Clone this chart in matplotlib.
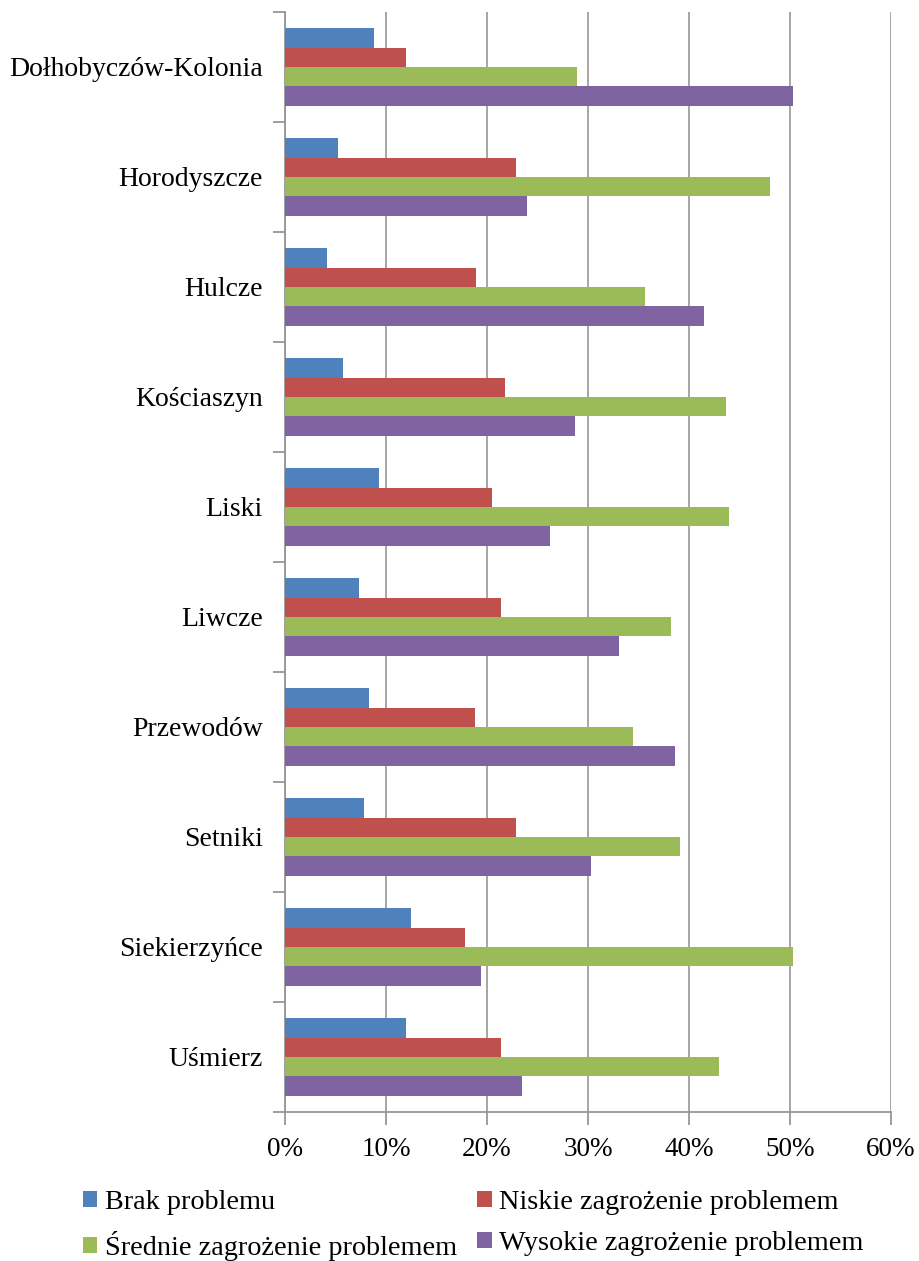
import matplotlib
matplotlib.use("Agg")
import matplotlib.pyplot as plt
import numpy as np

categories = ["Dołhobyczów-Kolonia", "Horodyszcze", "Hulcze", "Kościaszyn", "Liski",
              "Liwcze", "Przewodów", "Setniki", "Siekierzyńce", "Uśmierz"]
series_names = ["Brak problemu", "Niskie zagrożenie problemem",
                "Średnie zagrożenie problemem", "Wysokie zagrożenie problemem"]
brak =    [8.8, 5.2, 4.2, 5.7, 9.3, 7.3, 8.3, 7.8, 12.5, 12.0]
niskie =  [12.0, 22.9, 18.9, 21.8, 20.5, 21.4, 18.8, 22.9, 17.8, 21.4]
srednie = [28.9, 48.0, 35.6, 43.7, 44.0, 38.2, 34.5, 39.1, 50.3, 43.0]
wysokie = [50.3, 24.0, 41.5, 28.7, 26.2, 33.1, 38.6, 30.3, 19.4, 23.5]
xticks = [0, 10, 20, 30, 40, 50, 60]
xticklabels = ["0%", "10%", "20%", "30%", "40%", "50%", "60%"]

colors = ["#4F81BD", "#C0504D", "#9BBB59", "#8064A2"]
values = [brak, niskie, srednie, wysokie]

plt.rcParams['font.family'] = ['Liberation Serif', 'DejaVu Serif']

fig = plt.figure(figsize=(9.2, 12.61), dpi=100)
ax = fig.add_axes([285/920, 1 - 1112/1261, (891-285)/920, 1100/1261])

n = len(categories)
y = np.arange(n)
bh = 0.177
bars = []
for i, (vals, c, name) in enumerate(zip(values, colors, series_names)):
    offs = (i - 1.5) * bh
    b = ax.barh(y + offs, vals, height=bh, color=c, label=name, zorder=3)
    bars.append(b)

ax.set_xlim(0, 60)
ax.set_ylim(n - 0.5, -0.5)
ax.set_xticks(xticks)
ax.set_xticklabels(xticklabels, fontsize=19.5)
ax.set_yticks(y)
ax.set_yticklabels(categories, fontsize=20)
ax.set_yticks(np.arange(n + 1) - 0.5, minor=True)
ax.tick_params(axis='y', which='major', length=0, pad=16)
ax.tick_params(axis='y', which='minor', length=9, color='#969696', width=1.3)
ax.tick_params(axis='x', which='major', length=9, color='#969696', width=1.3, pad=9)
ax.grid(axis='x', color='#A6A6A6', linewidth=1.4, zorder=0)
for s in ['top', 'right']:
    ax.spines[s].set_visible(False)
for s in ['left', 'bottom']:
    ax.spines[s].set_color('#969696')
    ax.spines[s].set_linewidth(1.3)

order = [0, 2, 1, 3]
fig.legend([bars[i] for i in order], [series_names[i] for i in order],
           loc='center left', bbox_to_anchor=(83/920, 1 - 1225.5/1261), ncol=2, frameon=False,
           fontsize=20.3, handlelength=0.5, handleheight=0.5, handletextpad=0.28,
           columnspacing=0.72, labelspacing=0.55, borderaxespad=0, borderpad=0)

fig.savefig("out.png", dpi=100)
